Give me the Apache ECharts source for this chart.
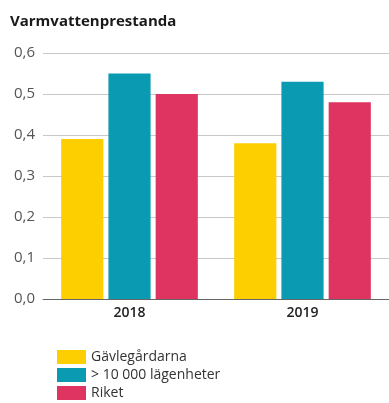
<!DOCTYPE html>
<html>
<head>
<meta charset="utf-8">
<script src="https://cdn.jsdelivr.net/npm/echarts@6/dist/echarts.min.js"></script>
<style>
  html, body { margin: 0; padding: 0; background: #fff; }
  #chart { width: 389px; height: 403px; }
</style>
</head>
<body>
<div id="chart"></div>
<script>
// Hot-water performance per year, three comparison groups
const years = ['2018', '2019'];
const gavlegardarna = [0.39, 0.38];
const over10000 = [0.55, 0.53];
const riket = [0.50, 0.48];
const seriesNames = ['Gävlegårdarna', '> 10 000 lägenheter', 'Riket'];
const colors = ['#FDCE00', '#0A9AB2', '#DF3462'];

const chart = echarts.init(document.getElementById('chart'));
const values = [gavlegardarna, over10000, riket];

chart.setOption({
  animation: false,
  textStyle: { fontFamily: 'Open Sans' },
  title: {
    text: 'Varmvattenprestanda',
    left: 10,
    top: 14,
    padding: 0,
    textStyle: { fontFamily: 'Open Sans', fontWeight: 'bold', fontSize: 15, color: '#1a1a1a' }
  },
  legend: {
    orient: 'vertical',
    left: 57,
    top: 350,
    padding: 0,
    itemWidth: 29,
    itemHeight: 14,
    itemGap: 4,
    icon: 'rect',
    data: seriesNames,
    textStyle: { fontFamily: 'Open Sans', fontSize: 14, color: '#333', padding: [0, 0, 0, 0] }
  },
  grid: { left: 43, right: 0, top: 53, bottom: 104 },
  xAxis: {
    type: 'category',
    data: years,
    axisTick: { show: false },
    axisLine: { lineStyle: { color: '#666', width: 1 } },
    axisLabel: { fontFamily: 'Open Sans', fontSize: 14, fontWeight: 600, color: '#222', margin: 7 }
  },
  yAxis: {
    type: 'value',
    min: 0,
    max: 0.6,
    interval: 0.1,
    axisLabel: {
      fontFamily: 'Open Sans',
      fontSize: 15,
      color: '#555',
      margin: 8,
      formatter: v => v.toFixed(1).replace('.', ',')
    },
    splitLine: { lineStyle: { color: '#c8c8c8', width: 1 } }
  },
  series: seriesNames.map((name, i) => ({
    name,
    type: 'bar',
    data: values[i],
    barGap: '12%',
    barCategoryGap: '21%',
    itemStyle: { color: colors[i] }
  }))
});
</script>
</body>
</html>
